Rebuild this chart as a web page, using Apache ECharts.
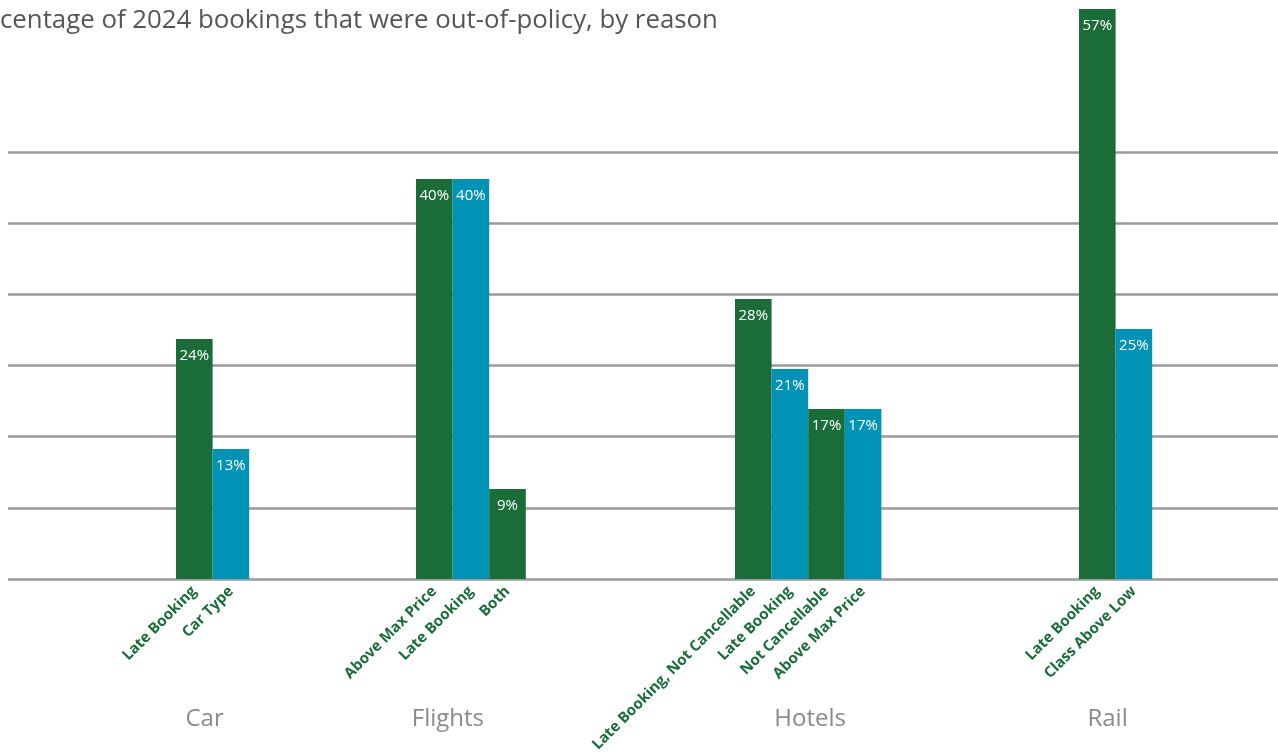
<!DOCTYPE html>
<html>
<head>
<meta charset="utf-8">
<script src="https://cdn.jsdelivr.net/npm/echarts@6/dist/echarts.min.js"></script>
<style>
html,body{margin:0;padding:0;background:#fff;}
#chart{width:1278px;height:754px;}
</style>
</head>
<body>
<div id="chart"></div>
<script>
// ---- data ----
const titleText = 'centage of 2024 bookings that were out-of-policy, by reason';
const groups = ['Car', 'Flights', 'Hotels', 'Rail'];
const carReasons = ['Late Booking', 'Car Type'];
const carValues = [24, 13];
const flightReasons = ['Above Max Price', 'Late Booking', 'Both'];
const flightValues = [40, 40, 9];
const hotelReasons = ['Late Booking, Not Cancellable', 'Late Booking', 'Not Cancellable', 'Above Max Price'];
const hotelValues = [28, 21, 17, 17];
const railReasons = ['Late Booking', 'Class Above Low'];
const railValues = [57, 25];

// ---- layout / style ----
const FONT = 'Open Sans';
const GREEN = '#1a6d38';
const BLUE = '#0093b6';
const TOP = 152, BOTTOM = 175;
const Y_MAX = 42.7, Y_STEP = Y_MAX / 6;
const BAR_W = 36.6;
const groupLayout = [
  { left: 176, reasons: carReasons, values: carValues, shift: -8 },
  { left: 416, reasons: flightReasons, values: flightValues, shift: -23 },
  { left: 735, reasons: hotelReasons, values: hotelValues, shift: 2 },
  { left: 1079, reasons: railReasons, values: railValues, shift: -8 }
];

const grid = [{ left: 8, right: 0, top: TOP, bottom: BOTTOM, outerBoundsMode: 'none', containLabel: false }];
const xAxis = [{ type: 'category', gridIndex: 0, data: [''], show: false }];
const yAxis = [{
  type: 'value', gridIndex: 0, min: 0, max: Y_MAX, interval: Y_STEP,
  axisLabel: { show: false }, axisLine: { show: false }, axisTick: { show: false },
  splitLine: { show: true, lineStyle: { color: '#9a9a9a', width: 2.5 } }
}];
const series = [];

groupLayout.forEach((g, gi) => {
  const idx = gi + 1;
  grid.push({ left: g.left, width: BAR_W * g.values.length, top: TOP, bottom: BOTTOM,
    outerBoundsMode: 'none', containLabel: false });
  const s = g.shift;
  xAxis.push({
    type: 'category', gridIndex: idx, data: g.reasons,
    axisLine: { show: false }, axisTick: { show: false },
    axisLabel: {
      interval: 0, rotate: 45, margin: 10, hideOverlap: false,
      color: GREEN, fontFamily: FONT, fontWeight: 'bold', fontSize: 15
    },
    name: groups[gi], nameLocation: 'middle', nameGap: 128, nameMoveOverlap: false,
    nameTextStyle: {
      color: '#8a8a8a', fontFamily: FONT, fontSize: 24,
      padding: s < 0 ? [0, -2 * s, 0, 0] : [0, 0, 0, 2 * s]
    }
  });
  yAxis.push({
    type: 'value', gridIndex: idx, min: 0, max: Y_MAX, show: false,
    splitLine: { show: false }
  });
  series.push({
    type: 'bar', xAxisIndex: idx, yAxisIndex: idx,
    data: g.values, barCategoryGap: 0, clip: false,
    itemStyle: { color: p => (p.dataIndex % 2 === 0 ? GREEN : BLUE) },
    label: {
      show: true, position: 'insideTop', distance: 9,
      color: '#fff', fontFamily: FONT, fontSize: 15,
      formatter: p => p.value + '%'
    },
    emphasis: { disabled: true }
  });
});

const chart = echarts.init(document.getElementById('chart'), null, { renderer: 'canvas' });
chart.setOption({
  animation: false,
  backgroundColor: '#fff',
  title: {
    text: titleText, left: 0, top: 8, padding: 0,
    textStyle: { color: '#555', fontFamily: FONT, fontSize: 25.8, fontWeight: 'normal' }
  },
  grid, xAxis, yAxis, series
});
</script>
</body>
</html>
